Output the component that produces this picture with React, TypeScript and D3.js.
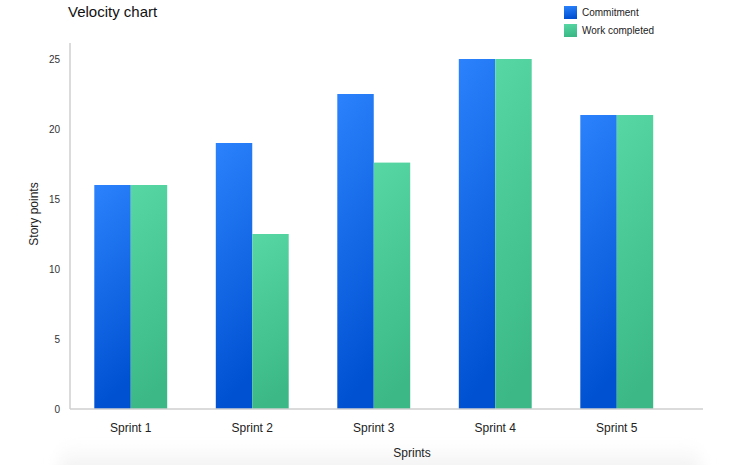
import { useEffect, useRef } from 'react';
import * as d3 from 'd3';

const SPRINTS = ['Sprint 1', 'Sprint 2', 'Sprint 3', 'Sprint 4', 'Sprint 5'];
const COMMITMENT = [16, 19, 22.5, 25, 21];
const COMPLETED = [16, 12.5, 17.6, 25, 21];
const SERIES = ['Commitment', 'Work completed'];
const Y_TICKS = [0, 5, 10, 15, 20, 25];

const W = 750;
const H = 465;
const FONT = '"Liberation Sans", Arial, Helvetica, sans-serif';

export default function App() {
  const svgRef = useRef<SVGSVGElement>(null);

  useEffect(() => {
    if (!svgRef.current) return;
    const svg = d3.select(svgRef.current);
    svg.selectAll('*').remove();

    const defs = svg.append('defs');
    const grads: [string, string, string][] = [
      ['grad-blue', '#2b82fc', '#0051d2'],
      ['grad-green', '#56d7a3', '#3bb886'],
    ];
    grads.forEach(([id, top, bottom]) => {
      const g = defs
        .append('linearGradient')
        .attr('id', id)
        .attr('x1', '0%')
        .attr('y1', '0%')
        .attr('x2', '15%')
        .attr('y2', '100%');
      g.append('stop').attr('offset', '0%').attr('stop-color', top);
      g.append('stop').attr('offset', '100%').attr('stop-color', bottom);
    });

    // soft shadow of the card at the bottom
    const sh = defs
      .append('linearGradient')
      .attr('id', 'shadow')
      .attr('x1', '0%')
      .attr('y1', '0%')
      .attr('x2', '0%')
      .attr('y2', '100%');
    sh.append('stop').attr('offset', '0%').attr('stop-color', '#fff').attr('stop-opacity', 0);
    sh.append('stop').attr('offset', '100%').attr('stop-color', '#e9e9e9').attr('stop-opacity', 1);
    const blur = defs.append('filter').attr('id', 'blur').attr('x', '-10%').attr('width', '120%');
    blur.append('feGaussianBlur').attr('stdDeviation', 8);

    svg
      .append('rect')
      .attr('x', 60)
      .attr('y', 436)
      .attr('width', 640)
      .attr('height', 40)
      .attr('fill', 'url(#shadow)')
      .attr('filter', 'url(#blur)');

    const x0 = d3.scaleBand<string>().domain(SPRINTS).range([70, 677.5]).paddingInner(0.4).paddingOuter(0.2);
    const x1 = d3.scaleBand<string>().domain(SERIES).range([0, x0.bandwidth()]);
    const y = d3.scaleLinear().domain([0, 25]).range([409, 59]);

    // bars
    const groups = svg
      .append('g')
      .selectAll('g')
      .data(SPRINTS)
      .join('g')
      .attr('transform', d => `translate(${x0(d)},0)`);

    groups
      .selectAll('rect')
      .data((_, i) => [
        { key: SERIES[0], v: COMMITMENT[i], fill: 'url(#grad-blue)' },
        { key: SERIES[1], v: COMPLETED[i], fill: 'url(#grad-green)' },
      ])
      .join('rect')
      .attr('x', d => x1(d.key)!)
      .attr('y', d => y(d.v))
      .attr('width', x1.bandwidth())
      .attr('height', d => y(0) - y(d.v))
      .attr('fill', d => d.fill);

    // axes lines
    svg
      .append('line')
      .attr('x1', 70)
      .attr('x2', 70)
      .attr('y1', 43)
      .attr('y2', 409)
      .attr('stroke', '#cfcfcf')
      .attr('stroke-width', 1.5);
    svg
      .append('line')
      .attr('x1', 70)
      .attr('x2', 703)
      .attr('y1', 409)
      .attr('y2', 409)
      .attr('stroke', '#cfcfcf')
      .attr('stroke-width', 1.5);

    // y ticks
    svg
      .append('g')
      .selectAll('text')
      .data(Y_TICKS)
      .join('text')
      .attr('x', 60)
      .attr('y', d => y(d) + 3.5)
      .attr('text-anchor', 'end')
      .attr('font-family', FONT)
      .attr('font-size', 10)
      .attr('fill', '#333')
      .text(d => d);

    // x labels
    svg
      .append('g')
      .selectAll('text')
      .data(SPRINTS)
      .join('text')
      .attr('x', d => x0(d)! + x0.bandwidth() / 2)
      .attr('y', 432)
      .attr('text-anchor', 'middle')
      .attr('font-family', FONT)
      .attr('font-size', 12)
      .attr('fill', '#222')
      .text(d => d);

    svg
      .append('text')
      .attr('x', 412)
      .attr('y', 457)
      .attr('text-anchor', 'middle')
      .attr('font-family', FONT)
      .attr('font-size', 12)
      .attr('fill', '#222')
      .text('Sprints');

    svg
      .append('text')
      .attr('transform', 'translate(38,214) rotate(-90)')
      .attr('text-anchor', 'middle')
      .attr('font-family', FONT)
      .attr('font-size', 12)
      .attr('fill', '#222')
      .text('Story points');

    // title
    svg
      .append('text')
      .attr('x', 68)
      .attr('y', 17)
      .attr('font-family', FONT)
      .attr('font-size', 15)
      .attr('fill', '#111')
      .text('Velocity chart');

    // legend
    const legend = svg
      .append('g')
      .selectAll('g')
      .data(SERIES)
      .join('g')
      .attr('transform', (_, i) => `translate(564,${6 + i * 18})`);
    legend
      .append('rect')
      .attr('width', 13)
      .attr('height', 13)
      .attr('fill', (_, i) => (i === 0 ? 'url(#grad-blue)' : 'url(#grad-green)'));
    legend
      .append('text')
      .attr('x', 18)
      .attr('y', 10)
      .attr('font-family', FONT)
      .attr('font-size', 10)
      .attr('fill', '#222')
      .text(d => d);
  }, []);

  return (
    <div style={{ position: 'fixed', left: 0, top: 0, width: W, height: H, background: '#fff' }}>
      <svg ref={svgRef} width={W} height={H} style={{ display: 'block' }} />
    </div>
  );
}
